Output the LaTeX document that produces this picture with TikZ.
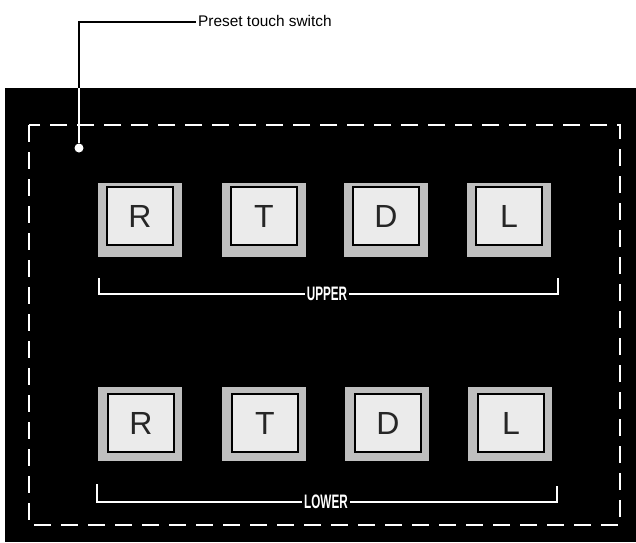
\documentclass[tikz,border=0pt]{standalone}
\usepackage{fontspec}
\setmainfont{Liberation Sans}
\begin{document}
\begin{tikzpicture}[x=1pt,y=-1pt,
  panel/.style={fill=black},
  btnring/.style={fill=gray!50!white, minimum width=84pt, minimum height=74pt, inner sep=0pt},
  btnface/.style={fill=gray!16, draw=black, line width=1.5pt, minimum width=66pt, minimum height=58pt, inner sep=0pt,
     font=\fontsize{32}{32}\selectfont, text=black!85},
  brk/.style={white, line width=2pt},
  lbl/.style={text=white, font=\bfseries\fontsize{19.5}{20}\selectfont, inner sep=2pt},
  frame/.style={white, line width=2pt, dash pattern=on 17pt off 10pt},
  leader/.style={line width=1.4pt},
  callout/.style={font=\fontsize{15.4}{16}\selectfont, inner sep=2pt, anchor=base west}
]
\useasboundingbox (0,0) rectangle (636,542);
\fill[panel] (5,88) rectangle (636,542);
\draw[frame] (29,125) rectangle (620,525);

% upper row
\foreach \n/\x/\t in {ur1/140/R, ur2/264/T, ur3/386/D, ur4/509/L}{
  \node[btnring] (\n) at (\x,220) {};
  \node[btnface] (\n f) at (\x,216) {\t};
}
% lower row
\foreach \n/\x/\t in {lr1/141/R, lr2/265/T, lr3/388/D, lr4/511/L}{
  \node[btnring] (\n) at (\x-1,424) {};
  \node[btnface] (\n f) at (\x,423) {\t};
}

% brackets
\node[lbl] (upper) at (327,294) {\scalebox{0.6}[1]{UPPER}};
\coordinate (uL) at (99,278);
\coordinate (uR) at (558,278);
\draw[brk] (uL) |- (upper.west);
\draw[brk] (uR) |- (upper.east);

\node[lbl] (lower) at (326,502) {\scalebox{0.6}[1]{LOWER}};
\coordinate (lL) at (97,484);
\coordinate (lR) at (557,486);
\draw[brk] (lL) |- (lower.west);
\draw[brk] (lR) |- (lower.east);

% callout
\node[circle, fill=white, inner sep=0pt, minimum size=9pt] (dot) at (79,148) {};
\node[callout] (label) at (196,26) {Preset touch switch};
\coordinate (edge) at (79,88);
\draw[leader, white] (dot) -- (edge);
\draw[leader, black] (edge) |- ([yshift=4pt]label.base west);
\end{tikzpicture}
\end{document}
